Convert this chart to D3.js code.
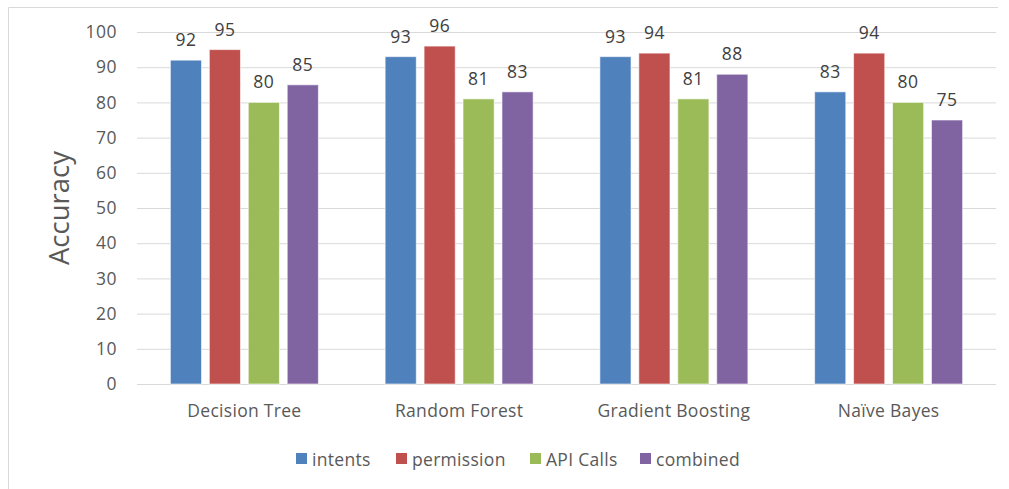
<!DOCTYPE html>
<html>
<head>
<meta charset="utf-8">
<script src="https://cdn.jsdelivr.net/npm/d3@7"></script>
<style>
  html, body { margin: 0; padding: 0; background: #fff; }
  svg { display: block; font-family: "Open Sans", Lato, sans-serif; }
</style>
</head>
<body>
<svg id="chart" width="1009" height="489"></svg>
<script>
// Classifier accuracy by feature set
const categories = ["Decision Tree", "Random Forest", "Gradient Boosting", "Naïve Bayes"];
const seriesNames = ["intents", "permission", "API Calls", "combined"];
const intents    = [92, 93, 93, 83];
const permission = [95, 96, 94, 94];
const apiCalls   = [80, 81, 81, 80];
const combined   = [85, 83, 88, 75];
const yTicks = [0, 10, 20, 30, 40, 50, 60, 70, 80, 90, 100];
const colors = ["#4F81BD", "#C0504D", "#9BBB59", "#8064A2"];

const seriesValues = [intents, permission, apiCalls, combined];
const FONT = "'Open Sans', Lato, sans-serif";

const svg = d3.select("#chart");
const W = 1009, H = 489;
const plot = { left: 137, right: 996, top: 32, bottom: 384 };

// outer frame (top and left edges visible)
svg.append("line").attr("x1", 8.5).attr("x2", 998).attr("y1", 7.5).attr("y2", 7.5)
  .attr("stroke", "#d9d9d9").attr("stroke-width", 1);
svg.append("line").attr("x1", 8.5).attr("x2", 8.5).attr("y1", 7.5).attr("y2", H)
  .attr("stroke", "#d9d9d9").attr("stroke-width", 1);

const y = d3.scaleLinear().domain([0, 100]).range([plot.bottom, plot.top]);
const x0 = d3.scaleBand().domain(categories).range([plot.left, plot.right]).paddingInner(0).paddingOuter(0);
const groupWidth = 148;
const x1 = d3.scaleBand().domain(seriesNames).range([0, groupWidth]).paddingInner(0.2).paddingOuter(0);

// gridlines and value ticks
const yAxis = d3.axisLeft(y).tickValues(yTicks).tickSize(-(plot.right - plot.left)).tickPadding(20);
const gy = svg.append("g").attr("transform", `translate(${plot.left},0)`).call(yAxis);
gy.select(".domain").remove();
gy.selectAll(".tick line").attr("stroke", "#d9d9d9").attr("stroke-width", 1);
gy.selectAll(".tick text").attr("fill", "#595959").attr("font-size", 17.5)
  .attr("letter-spacing", 0.5).attr("font-family", FONT);

// category axis
const xAxis = d3.axisBottom(x0).tickSize(0).tickPadding(21);
const gx = svg.append("g").attr("transform", `translate(0,${plot.bottom})`).call(xAxis);
gx.select(".domain").remove();
gx.selectAll(".tick text").attr("fill", "#595959").attr("font-size", 17.5)
  .attr("letter-spacing", 0.3).attr("font-family", FONT);

// bars
const rows = categories.map((c, i) => ({
  category: c,
  values: seriesNames.map((s, j) => ({ series: s, value: seriesValues[j][i], color: colors[j] }))
}));

const groups = svg.append("g").selectAll("g").data(rows).join("g")
  .attr("transform", d => `translate(${x0(d.category) + (x0.bandwidth() - groupWidth) / 2},0)`);

groups.selectAll("rect").data(d => d.values).join("rect")
  .attr("x", d => x1(d.series))
  .attr("y", d => y(d.value))
  .attr("width", x1.bandwidth())
  .attr("height", d => y(0) - y(d.value))
  .attr("fill", d => d.color)
  .attr("stroke", "#ffffff")
  .attr("stroke-opacity", 0.6)
  .attr("stroke-width", 1);

groups.selectAll("text.val").data(d => d.values).join("text")
  .attr("class", "val")
  .attr("x", d => x1(d.series) + x1.bandwidth() / 2)
  .attr("y", d => y(d.value) - 14)
  .attr("text-anchor", "middle")
  .attr("fill", "#404040")
  .attr("font-size", 17.5)
  .attr("letter-spacing", 0.5)
  .text(d => d.value);

// y-axis title
svg.append("text")
  .attr("transform", `translate(69,208) rotate(-90)`)
  .attr("text-anchor", "middle")
  .attr("fill", "#595959")
  .attr("font-size", 27.5)
  .text("Accuracy");

// legend
const legendX = [296, 396, 530, 640];
const legend = svg.append("g").selectAll("g").data(seriesNames).join("g")
  .attr("transform", (d, i) => `translate(${legendX[i]},459)`);
legend.append("rect").attr("x", 0).attr("y", -6).attr("width", 11).attr("height", 11)
  .attr("fill", (d, i) => colors[i]);
legend.append("text").attr("x", 16).attr("y", 6.5)
  .attr("fill", "#595959").attr("font-size", 17.5).attr("letter-spacing", 0.3)
  .text(d => d);
</script>
</body>
</html>
